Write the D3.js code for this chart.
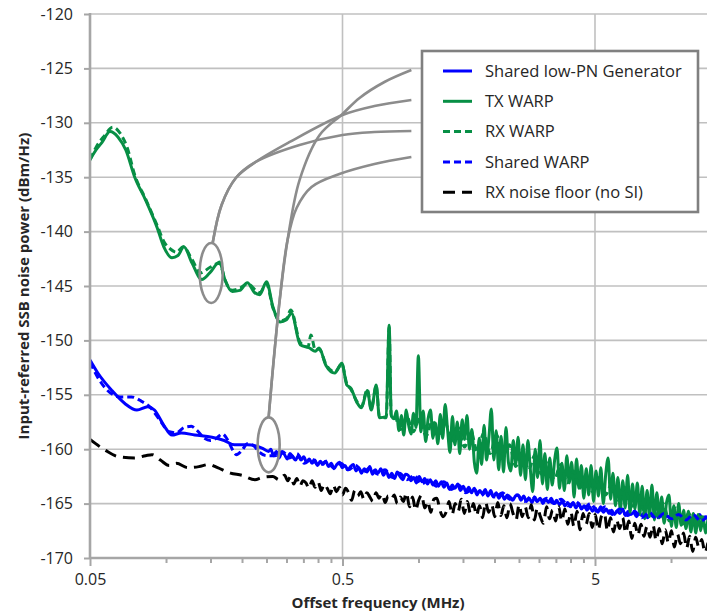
<!DOCTYPE html>
<html>
<head>
<meta charset="utf-8">
<script src="https://cdn.jsdelivr.net/npm/d3@7"></script>
<style>
  body { margin: 0; background: #fff; }
  svg { display: block; }
  text { font-family: "Open Sans", sans-serif; fill: #262626; }
</style>
</head>
<body>
<svg id="chart" width="707" height="615"></svg>
<script>
// ---- data (MHz, dBm/Hz) ----
var y_ticks = [-170, -165, -160, -155, -150, -145, -140, -135, -130, -125, -120];
var x_major = [0.05, 0.5, 5];
var x_minor = [0.1, 0.15, 0.2, 0.25, 0.3, 0.35, 0.4, 0.45, 1, 1.5, 2, 2.5, 3, 3.5, 4, 4.5, 10, 15];

var legend_names = ["Shared low-PN Generator", "TX WARP", "RX WARP", "Shared WARP", "RX noise floor (no SI)"];

// smooth low-offset part of each trace
var tx_f = [0.05, 0.0528, 0.0558, 0.060, 0.0645, 0.0693, 0.0752, 0.083, 0.0921, 0.098,
    0.1056, 0.1115, 0.1177, 0.1268, 0.1386, 0.149, 0.163, 0.171, 0.183, 0.196,
    0.21, 0.224, 0.235, 0.25, 0.265, 0.283, 0.3, 0.314, 0.34, 0.37,
    0.39, 0.404, 0.43, 0.466, 0.497, 0.52, 0.54, 0.57, 0.594, 0.627,
    0.65, 0.68, 0.70, 0.745, 0.765, 0.78];
var tx_db = [-133.4, -132.5, -131.8, -130.8, -131.3, -132.5, -135.0, -137.1, -139.6, -141.4,
    -142.4, -142.2, -141.4, -142.9, -144.4, -143.8, -142.8, -144.4, -145.5, -145.4,
    -144.7, -145.6, -145.8, -144.6, -146.9, -148.3, -148.1, -147.5, -150.4, -150.7,
    -151.0, -150.7, -152.3, -153.0, -152.1, -154.1, -154.4, -155.7, -156.2, -154.6,
    -156.4, -154.1, -157.1, -157.0, -148.6, -156.9];

var rx_f = [0.05, 0.053, 0.057, 0.0615, 0.066, 0.07, 0.0752, 0.083, 0.0921, 0.098,
    0.104, 0.11, 0.117, 0.127, 0.137, 0.149, 0.163, 0.171, 0.183, 0.196,
    0.21, 0.235, 0.25, 0.265, 0.283, 0.3, 0.312, 0.34, 0.365, 0.375,
    0.39, 0.404, 0.43, 0.466, 0.497, 0.52, 0.54, 0.57, 0.594, 0.627,
    0.65, 0.68, 0.70, 0.745, 0.765, 0.78];
var rx_db = [-133.4, -132.2, -131.2, -130.4, -131.0, -132.2, -134.8, -137.0, -139.4, -140.9,
    -141.6, -141.9, -141.4, -142.6, -143.8, -143.3, -142.9, -144.4, -145.4, -145.2,
    -144.8, -145.6, -144.8, -147.0, -148.2, -148.0, -147.2, -150.2, -150.6, -149.5,
    -150.9, -150.8, -152.2, -152.9, -152.2, -154.0, -154.5, -155.6, -156.1, -154.5,
    -156.3, -154.2, -157.0, -157.1, -148.8, -157.0];

var gen_f = [0.05, 0.0537, 0.061, 0.0687, 0.0767, 0.0847, 0.09, 0.098, 0.1056, 0.115,
    0.13, 0.152, 0.17, 0.187, 0.21, 0.24, 0.255];
var gen_db = [-151.8, -153.0, -154.6, -155.8, -156.4, -156.1, -156.4, -157.8, -158.7, -158.5,
    -158.7, -158.9, -159.2, -159.6, -159.6, -159.9, -160.2];

var sw_f = [0.05, 0.055, 0.06, 0.066, 0.073, 0.08, 0.087, 0.095, 0.103, 0.11,
    0.118, 0.126, 0.133, 0.142, 0.15, 0.158, 0.167, 0.176, 0.183, 0.19,
    0.2, 0.21, 0.22, 0.235, 0.25, 0.26];
var sw_db = [-152.0, -153.8, -154.8, -155.2, -155.2, -155.6, -156.2, -157.4, -158.4, -158.5,
    -158.0, -157.9, -158.3, -159.0, -159.2, -159.0, -158.6, -159.2, -160.0, -160.5,
    -160.1, -159.5, -159.6, -160.3, -160.6, -160.6];

var nf_f = [0.05, 0.0575, 0.065, 0.075, 0.083, 0.088, 0.095, 0.103, 0.11, 0.122,
    0.135, 0.148, 0.16, 0.18, 0.2, 0.225, 0.24, 0.265, 0.28];
var nf_db = [-159.1, -160.1, -160.7, -160.8, -160.6, -160.5, -161.0, -161.5, -161.3, -161.7,
    -161.6, -161.4, -161.7, -162.2, -162.4, -162.8, -162.6, -162.5, -162.8];

// noisy high-offset part, read along an evenly log-spaced sweep [start, stop]
var tx_noise_span = [0.8, 14];
var tx_noise_db = [
    -157.2, -156.5, -158.3, -156.9, -158.7, -156.4, -157.8, -158.6, -156.7, -158.0,
    -151.4, -158.4, -156.5, -159.3, -157.2, -156.4, -159.0, -157.6, -159.5, -156.8,
    -159.0, -155.9, -158.2, -160.3, -157.0, -159.6, -157.5, -160.4, -157.3, -159.1,
    -156.9, -160.0, -158.2, -161.2, -162.2, -159.0, -161.4, -157.8, -161.0, -158.9,
    -156.3, -161.0, -158.3, -161.9, -158.8, -162.1, -158.0, -161.2, -162.0, -159.2,
    -161.4, -158.9, -162.4, -159.6, -162.8, -159.2, -161.8, -163.9, -160.0, -162.6,
    -159.2, -163.2, -160.4, -163.7, -160.8, -163.3, -161.0, -159.9, -163.6, -161.3,
    -163.8, -160.6, -163.1, -161.2, -164.4, -160.9, -163.6, -161.5, -164.5, -161.8,
    -164.2, -161.5, -164.8, -162.0, -164.3, -161.7, -165.0, -162.3, -160.8, -164.6,
    -162.2, -165.2, -162.6, -165.6, -162.9, -165.4, -162.4, -165.8, -163.2, -165.5,
    -163.1, -166.0, -163.4, -166.4, -163.8, -166.2, -163.3, -166.5, -164.0, -166.3,
    -164.4, -166.8, -164.9, -164.2, -167.1, -165.2, -167.2, -165.0, -167.0, -165.6,
    -167.3, -165.7, -167.6, -165.9, -167.7, -166.0, -167.5, -166.2, -167.7, -166.4];

var rx_noise_span = [0.8, 14];
var rx_noise_db = [
    -156.8, -158.2, -157.0, -158.4, -157.2, -158.8, -157.4, -159.0, -157.6, -159.3,
    -158.0, -159.8, -158.4, -160.2, -158.5, -160.4, -158.7, -160.5, -159.6, -161.6,
    -160.1, -161.9, -160.5, -162.3, -161.0, -162.8, -161.4, -163.1, -162.0, -163.6,
    -162.3, -163.9, -162.6, -164.2, -163.2, -164.7, -163.5, -165.3, -164.0, -165.6,
    -164.6, -166.1, -165.0, -166.6, -165.4, -166.9, -165.9, -167.3, -166.2, -167.5];

var gen_noise_span = [0.26, 14];
var gen_noise_db = [
    -160.0, -160.6, -160.2, -160.8, -160.3, -160.5, -160.9, -160.4, -160.7, -161.0,
    -160.6, -161.0, -160.7, -161.2, -160.9, -161.3, -161.0, -161.5, -161.1, -161.4,
    -161.1, -161.6, -161.3, -161.8, -161.4, -161.2, -161.7, -161.5, -161.9, -161.6,
    -161.4, -162.0, -161.7, -162.2, -161.8, -162.1, -161.6, -162.3, -161.9, -162.2,
    -161.8, -162.4, -162.0, -162.6, -162.2, -162.7, -162.1, -162.5, -162.8, -162.3,
    -162.4, -162.9, -162.6, -163.1, -162.5, -163.0, -162.7, -163.2, -162.8, -163.3,
    -162.9, -163.4, -163.0, -163.5, -163.1, -163.7, -163.3, -163.6, -163.2, -163.8,
    -163.4, -163.9, -163.5, -164.0, -163.6, -164.2, -163.8, -164.1, -163.7, -164.3,
    -163.8, -164.4, -164.0, -164.5, -164.1, -164.6, -164.2, -164.4, -164.7, -164.3,
    -164.2, -164.7, -164.3, -164.8, -164.5, -164.9, -164.4, -164.8, -164.5, -165.0,
    -164.6, -164.9, -164.5, -165.0, -164.7, -165.1, -164.8, -165.2, -164.9, -165.3,
    -164.9, -165.4, -165.0, -165.5, -165.2, -165.6, -165.3, -165.7, -165.4, -165.8,
    -165.3, -165.8, -165.5, -165.9, -165.6, -166.0, -165.7, -165.9, -165.5, -166.1,
    -165.7, -166.0, -165.8, -166.2, -165.9, -166.1, -165.8, -166.3, -165.9, -166.2,
    -165.9, -166.3, -166.0, -166.4, -166.1, -166.3, -165.9, -166.4, -166.1, -166.3,
    -166.0, -166.4, -166.1, -166.5, -166.2, -166.4, -166.0, -166.5, -166.2, -166.4];

var sw_noise_span = [0.27, 14];
var sw_noise_db = [
    -160.6, -160.2, -160.8, -160.4, -161.3, -160.9, -161.5, -161.1, -161.7, -161.3,
    -161.9, -161.5, -162.1, -161.7, -162.3, -161.9, -162.6, -162.2, -162.8, -162.4,
    -163.2, -162.8, -163.4, -163.0, -163.7, -163.3, -164.0, -163.6, -164.3, -163.8,
    -164.4, -164.0, -164.6, -164.2, -164.8, -164.3, -164.9, -164.5, -165.0, -164.6,
    -165.2, -164.8, -165.5, -165.0, -165.8, -165.3, -166.0, -165.5, -166.1, -165.7,
    -166.3, -165.8, -166.4, -165.9, -166.4, -166.0, -166.5, -166.0, -166.6, -166.1];

var nf_noise_span = [0.295, 14];
var nf_noise_db = [
    -162.4, -162.9, -162.5, -163.2, -162.7, -163.4, -162.9, -163.1, -163.6, -162.9,
    -163.5, -163.0, -163.8, -163.2, -163.6, -164.1, -163.3, -163.9, -163.5, -164.2,
    -163.6, -164.0, -164.7, -163.8, -164.3, -163.9, -164.6, -164.0, -164.4, -164.8,
    -164.0, -164.5, -164.1, -164.9, -164.3, -164.6, -164.2, -165.0, -164.4, -164.8,
    -164.0, -165.3, -164.4, -165.6, -164.7, -164.2, -165.4, -164.8, -165.8, -164.6,
    -164.5, -165.6, -166.2, -165.8, -164.8, -166.0, -165.0, -165.7, -164.6, -165.9,
    -164.8, -165.9, -165.0, -166.1, -165.2, -166.3, -164.9, -165.8, -165.1, -166.2,
    -164.9, -166.1, -165.2, -166.3, -165.0, -165.9, -166.5, -165.1, -166.2, -165.3,
    -166.3, -165.1, -166.5, -165.4, -166.2, -166.8, -165.3, -166.4, -165.6, -166.6,
    -165.3, -166.6, -165.5, -166.9, -165.8, -167.1, -165.7, -167.4, -165.9, -166.9,
    -165.9, -167.2, -166.0, -167.4, -166.2, -165.9, -167.5, -166.3, -167.6, -166.5,
    -167.3, -166.3, -167.7, -166.6, -168.2, -166.8, -167.9, -166.9, -168.0, -167.1,
    -168.1, -167.0, -168.4, -167.3, -168.7, -167.4, -168.6, -167.5, -169.0, -167.8,
    -168.7, -167.7, -169.1, -168.0, -169.4, -168.1, -169.0, -168.3, -169.5, -168.6];

// grey call-out ellipses and leader curves, in data units
var callout_ellipses = [[0.151, -143.8], [0.255, -159.6]];
var callout_curves = [
    [[0.153, -141.05], [0.166, -137.55], [0.189, -135.07], [0.2265, -133.6], [0.309, -131.76], [0.5, -129.28], [0.669, -128.46], [0.937, -127.9]],
    [[0.153, -141.05], [0.166, -137.55], [0.189, -135.07], [0.2265, -133.6], [0.338, -132.04], [0.5, -131.12], [0.669, -130.85], [0.937, -130.75]],
    [[0.255, -157.04], [0.267, -151.8], [0.282, -146.29], [0.303, -140.77], [0.338, -135.26], [0.406, -131.12], [0.5, -129.19], [0.584, -127.72], [0.733, -126.25], [0.937, -125.15]],
    [[0.255, -157.04], [0.267, -151.8], [0.282, -146.29], [0.303, -140.77], [0.329, -137.83], [0.377, -135.9], [0.486, -134.71], [0.669, -133.79], [0.937, -133.14]]
];

// ---- build ----
function log_grid(span, n) {
    return d3.range(n).map(function(i) {
        return span[0] * Math.pow(span[1] / span[0], i / (n - 1));
    });
}

function make_points(f, db, span, noise) {
    var ff = f.concat(log_grid(span, noise.length));
    var vv = db.concat(noise);
    return ff.map(function(d, i) { return [d, vv[i]]; });
}

var series = [
    {name: legend_names[0], color: "#0000ff", dash: null, pts: make_points(gen_f, gen_db, gen_noise_span, gen_noise_db)},
    {name: legend_names[1], color: "#078f45", dash: null, pts: make_points(tx_f, tx_db, tx_noise_span, tx_noise_db)},
    {name: legend_names[2], color: "#078f45", dash: "7,4", pts: make_points(rx_f, rx_db, rx_noise_span, rx_noise_db)},
    {name: legend_names[3], color: "#0000ff", dash: "7,4", pts: make_points(sw_f, sw_db, sw_noise_span, sw_noise_db)},
    {name: legend_names[4], color: "#000000", dash: "12,7", pts: make_points(nf_f, nf_db, nf_noise_span, nf_noise_db)}
];

var svg = d3.select("#chart");
var plot_left = 90, plot_right = 707, plot_top = 14, plot_bottom = 558;

var x = d3.scaleLog().domain([0.05, 5]).range([plot_left, 595]);
var y = d3.scaleLinear().domain([-170, -120]).range([plot_bottom, plot_top]);

svg.append("defs").append("clipPath").attr("id", "plot_clip")
    .append("rect").attr("x", plot_left).attr("y", 0)
    .attr("width", plot_right - plot_left + 5).attr("height", plot_bottom);

// grid
var grid = svg.append("g");
grid.selectAll("line.h").data(y_ticks).enter().append("line")
    .attr("x1", plot_left).attr("x2", plot_right)
    .attr("y1", function(d) { return y(d); }).attr("y2", function(d) { return y(d); })
    .attr("stroke", "#c0c0c0").attr("stroke-width", 1.6);
grid.selectAll("line.v").data(x_major).enter().append("line")
    .attr("x1", function(d) { return x(d); }).attr("x2", function(d) { return x(d); })
    .attr("y1", plot_top).attr("y2", plot_bottom)
    .attr("stroke", "#c0c0c0").attr("stroke-width", 1.6);

// traces
var line = d3.line()
    .x(function(d) { return x(d[0]); })
    .y(function(d) { return y(d[1]); })
    .curve(d3.curveMonotoneX);

svg.append("g").attr("clip-path", "url(#plot_clip)")
    .selectAll("path").data(series).enter().append("path")
    .attr("d", function(d) { return line(d.pts); })
    .attr("fill", "none")
    .attr("stroke", function(d) { return d.color; })
    .attr("stroke-width", 3)
    .attr("stroke-linejoin", "round")
    .attr("stroke-dasharray", function(d) { return d.dash; });

// axes
var y_axis = d3.axisLeft(y).tickValues(y_ticks).tickSize(6).tickPadding(11)
    .tickFormat(function(d) { return String(d); });
var x_axis = d3.axisBottom(x).tickValues(x_major).tickSize(8).tickPadding(8)
    .tickFormat(function(d) { return String(d); });
var x_axis_minor = d3.axisBottom(x).tickValues(x_minor).tickSize(5).tickFormat("");

var gy = svg.append("g").attr("transform", "translate(" + plot_left + ",0)").call(y_axis);
var gx = svg.append("g").attr("transform", "translate(0," + plot_bottom + ")").call(x_axis);
var gxm = svg.append("g").attr("transform", "translate(0," + plot_bottom + ")").call(x_axis_minor);

[gy, gx, gxm].forEach(function(g) {
    g.attr("font-size", null).attr("font-family", null);
    g.select(".domain").remove();
    g.selectAll(".tick line").attr("stroke", "#a6a6a6").attr("stroke-width", 2);
    g.selectAll(".tick text").style("font-size", "16px").attr("fill", "#262626");
});

svg.append("line").attr("x1", plot_left).attr("x2", plot_left)
    .attr("y1", plot_top - 1).attr("y2", plot_bottom + 1)
    .attr("stroke", "#a6a6a6").attr("stroke-width", 2.6);
svg.append("line").attr("x1", plot_left).attr("x2", plot_right)
    .attr("y1", plot_bottom).attr("y2", plot_bottom)
    .attr("stroke", "#a6a6a6").attr("stroke-width", 2.6);

svg.append("text").attr("x", 378).attr("y", 608).attr("text-anchor", "middle")
    .style("font-size", "15px").style("font-weight", "bold")
    .text("Offset frequency (MHz)");
svg.append("text")
    .attr("transform", "translate(29," + ((plot_top + plot_bottom) / 2) + ") rotate(-90)")
    .attr("text-anchor", "middle")
    .style("font-size", "15px").style("font-weight", "bold")
    .text("Input-referred SSB noise power (dBm/Hz)");

// call-outs
var callout_line = d3.line()
    .x(function(d) { return x(d[0]); })
    .y(function(d) { return y(d[1]); })
    .curve(d3.curveCatmullRom);

var callouts = svg.append("g").attr("fill", "none").attr("stroke", "#8c8c8c").attr("stroke-width", 2.6);
callouts.selectAll("path").data(callout_curves).enter().append("path")
    .attr("d", function(d) { return callout_line(d); });
callouts.selectAll("ellipse").data(callout_ellipses).enter().append("ellipse")
    .attr("cx", function(d) { return x(d[0]); })
    .attr("cy", function(d) { return y(d[1]); })
    .attr("rx", function(d, i) { return i === 0 ? 11.5 : 11; })
    .attr("ry", function(d, i) { return i === 0 ? 30 : 27.5; });

// legend
var legend = svg.append("g").attr("transform", "translate(422,51)");
legend.append("rect").attr("width", 276).attr("height", 161)
    .attr("fill", "#fff").attr("stroke", "#808080").attr("stroke-width", 2.6);
var rows = legend.selectAll("g.row").data(series).enter().append("g")
    .attr("transform", function(d, i) { return "translate(0," + (20 + i * 30.3) + ")"; });
rows.append("line").attr("x1", 21).attr("x2", 50).attr("y1", 0).attr("y2", 0)
    .attr("stroke", function(d) { return d.color; })
    .attr("stroke-width", 3)
    .attr("stroke-dasharray", function(d) { return d.dash; });
rows.append("text").attr("x", 63).attr("dy", "0.35em")
    .style("font-size", "16.5px")
    .text(function(d) { return d.name; });
</script>
</body>
</html>
